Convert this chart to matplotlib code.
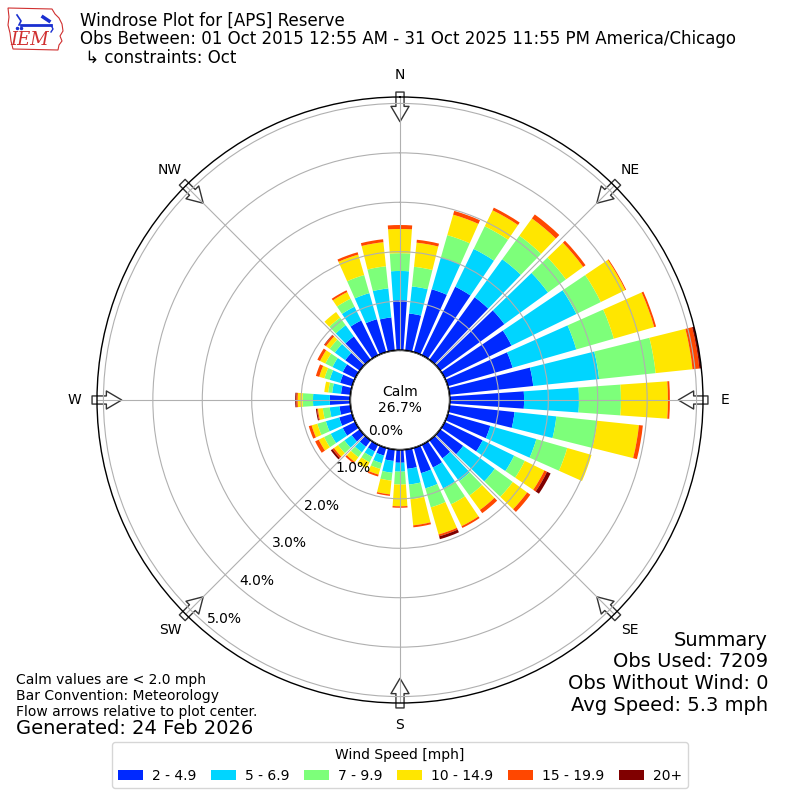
import numpy as np
import matplotlib
matplotlib.use("Agg")
import matplotlib.pyplot as plt
from matplotlib.patches import Circle, Polygon, Patch

# ---------------- data ----------------
directions = list(range(0, 360, 10))
speed_labels = ["2 - 4.9", "5 - 6.9", "7 - 9.9", "10 - 14.9", "15 - 19.9", "20+"]
compass = ["N", "NE", "E", "SE", "S", "SW", "W", "NW"]
ring_values = [0, 1, 2, 3, 4, 5]

spd_2_5 = [1.02, 0.76, 1.33, 1.55, 1.57, 1.61, 1.51, 1.37, 1.71, 1.51, 1.33, 0.90,
           0.86, 0.58, 0.46, 0.52, 0.54, 0.40, 0.27, 0.24, 0.17, 0.16, 0.17, 0.21,
           0.29, 0.28, 0.23, 0.42, 0.20, 0.26, 0.29, 0.37, 0.59, 0.79, 0.70, 0.68]
spd_5_7 = [0.59, 0.55, 0.67, 0.85, 0.95, 1.09, 1.46, 1.34, 1.34, 1.11, 0.85, 0.97,
           0.71, 0.79, 0.57, 0.47, 0.32, 0.32, 0.18, 0.24, 0.16, 0.12, 0.14, 0.18,
           0.27, 0.28, 0.20, 0.34, 0.18, 0.22, 0.23, 0.26, 0.28, 0.31, 0.55, 0.59]
spd_7_10 = [0.36, 0.40, 0.47, 0.51, 0.59, 0.45, 0.55, 0.79, 1.15, 0.85, 0.83, 0.65,
            0.24, 0.45, 0.36, 0.36, 0.40, 0.30, 0.26, 0.16, 0.12, 0.12, 0.12, 0.16,
            0.15, 0.18, 0.14, 0.21, 0.08, 0.11, 0.16, 0.13, 0.19, 0.18, 0.38, 0.45]
spd_10_15 = [0.49, 0.49, 0.43, 0.36, 0.43, 0.43, 0.55, 0.85, 0.75, 0.95, 0.85, 0.51,
             0.44, 0.36, 0.36, 0.49, 0.57, 0.53, 0.44, 0.28, 0.12, 0.14, 0.12, 0.10,
             0.12, 0.12, 0.10, 0.10, 0.08, 0.11, 0.12, 0.09, 0.14, 0.15, 0.43, 0.49]
spd_15_20 = [0.08, 0.06, 0.08, 0.06, 0.10, 0.06, 0.02, 0.04, 0.14, 0.04, 0.08, 0.00,
             0.06, 0.08, 0.08, 0.04, 0.04, 0.04, 0.03, 0.03, 0.04, 0.00, 0.04, 0.04,
             0.08, 0.06, 0.02, 0.03, 0.00, 0.07, 0.06, 0.04, 0.00, 0.04, 0.05, 0.06]
spd_20p = [0, 0, 0, 0, 0, 0, 0, 0, 0.06, 0, 0, 0,
           0.08, 0, 0, 0, 0.06, 0, 0, 0, 0, 0, 0, 0.04,
           0, 0, 0.02, 0.02, 0, 0, 0, 0.01, 0, 0, 0, 0]

calm_pct = 26.7
obs_used = 7209
obs_without_wind = 0
avg_speed = 5.3

series = [spd_2_5, spd_5_7, spd_7_10, spd_10_15, spd_15_20, spd_20p]
colors = plt.cm.jet(np.linspace(0, 1, 7)[1:])

# ---------------- figure ----------------
fig = plt.figure(figsize=(8, 8), dpi=100)
ax = fig.add_axes([0.12125, 0.12125, 0.7575, 0.7575], projection="polar")
ax.set_theta_zero_location("N")
ax.set_theta_direction(-1)
ax.set_rorigin(-1.0)
ax.set_ylim(0, 5.13)

theta = np.deg2rad(directions)
width = np.deg2rad(8)
bottom = np.zeros(len(directions))
for vals, c in zip(series, colors):
    vals = np.asarray(vals, dtype=float)
    ax.bar(theta, vals, width=width, bottom=bottom, color=c, linewidth=0, zorder=1)
    bottom = bottom + vals

ax.set_xticks(np.deg2rad(np.arange(0, 360, 45)))
ax.set_xticklabels([])
ax.set_yticks(ring_values)
ax.set_yticklabels([])
ax.grid(True, color="#b0b0b0", linewidth=0.8)
ax.spines["polar"].set_linewidth(1.0)

# ring labels
for v in ring_values:
    ax.text(np.deg2rad(220.5), v, f"{v:.1f}%", ha="left", va="bottom",
            fontsize=10, zorder=6, clip_on=False)

# compass labels and flow arrows
for i, lab in enumerate(compass):
    ang = np.deg2rad(i * 45)
    ax.text(ang, 5.58, lab, ha="center", va="center", fontsize=10, clip_on=False)
    ax.annotate("", xy=(ang, 4.63), xytext=(ang, 5.23), xycoords="data",
                arrowprops=dict(arrowstyle="simple,head_length=0.85,head_width=1.0,tail_width=0.45",
                                mutation_scale=13, fc="white", ec="#333333", lw=1.0,
                                shrinkA=0, shrinkB=0),
                annotation_clip=False, zorder=1.2)

# calm circle
calm = Circle((0.5, 0.5), 50 / 606, transform=ax.transAxes, fc="white",
              ec="black", lw=1.0, zorder=4)
ax.add_patch(calm)
ax.text(0.5, 0.5, f"Calm\n{calm_pct:.1f}%", transform=ax.transAxes, ha="center",
        va="center", fontsize=10, zorder=5)

# ---------------- texts ----------------
fig.text(0.1, 0.9855, "Windrose Plot for [APS] Reserve\n"
         "Obs Between: 01 Oct 2015 12:55 AM - 31 Oct 2025 11:55 PM America/Chicago\n"
         " \u21b3 constraints: Oct", ha="left", va="top", fontsize=12, linespacing=1.05)

fig.text(0.02, 0.13, "Calm values are < 2.0 mph\nBar Convention: Meteorology\n"
         "Flow arrows relative to plot center.", ha="left", va="center", fontsize=10)
fig.text(0.02, 0.089, "Generated: 24 Feb 2026", ha="left", va="center", fontsize=14)

summary_lines = ["Summary", f"Obs Used: {obs_used}", f"Obs Without Wind: {obs_without_wind}",
                 f"Avg Speed: {avg_speed} mph"]
for k, line in enumerate(summary_lines):
    fig.text(0.96, 1 - (640 + 21.7 * k) / 800, line, ha="right", va="center", fontsize=14)

handles = [Patch(facecolor=c) for c in colors]
fig.legend(handles, speed_labels, loc="lower center", bbox_to_anchor=(0.5, 0.006),
           ncol=6, title="Wind Speed [mph]", fontsize=10, title_fontsize=10,
           handlelength=1.8, handletextpad=0.65, columnspacing=1.05)

# ---------------- logo ----------------
lax = fig.add_axes([5 / 800, 1 - 52 / 800, 63 / 800, 47 / 800])
lax.set_xlim(0, 63)
lax.set_ylim(47, 0)
lax.axis("off")
iowa = [(3, 3), (47, 4), (50, 9), (54, 13), (57, 19), (58, 26), (55, 31), (57, 36),
        (54, 40), (53, 45), (8, 44), (6, 36), (5, 28), (3, 20), (4, 12)]
lax.add_patch(Polygon(iowa, closed=True, fc="white", ec="#d03030", lw=0.8))
lax.plot([16, 46], [20, 20], color="#1a2fd0", lw=2)
lax.plot([12, 16, 14], [10, 16, 20], color="#1a2fd0", lw=1.2)
lax.plot([38, 44], [12, 16], color="#1a2fd0", lw=2.5)
lax.plot([46, 48, 46], [20, 24, 27], color="#1a2fd0", lw=1)
lax.plot([12, 16], [23, 23], "o", color="#1a2fd0", ms=1.5)
lax.text(25, 35, "IEM", color="#d03030", fontsize=13, style="italic",
         family="DejaVu Serif", ha="center", va="center")

fig.savefig("out.png", dpi=100)
